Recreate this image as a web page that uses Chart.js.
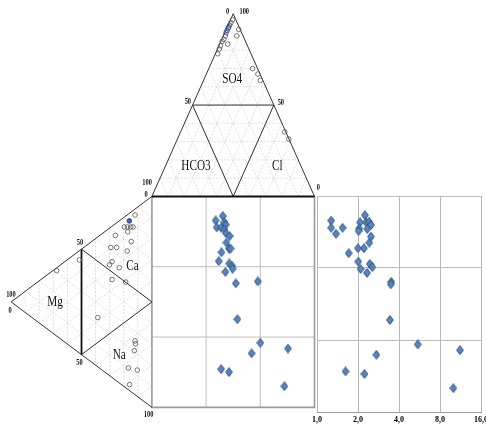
<!DOCTYPE html>
<html>
<head>
<meta charset="utf-8">
<script src="https://cdn.jsdelivr.net/npm/chart.js@4.4.0/dist/chart.umd.min.js"></script>
<style>
html, body { margin: 0; padding: 0; background: #fff; overflow: hidden; }
#wrap { position: relative; width: 486px; height: 428px; }
#main { position: absolute; left: 0; top: 0; }
#side { position: absolute; left: 304px; top: 186px; }
</style>
</head>
<body>
<div id="wrap">
  <canvas id="main" width="486" height="428"></canvas>
  <canvas id="side" width="190" height="242"></canvas>
</div>
<script>
// diagram units: square is 0..100 both ways, triangles have side 100
let anionX = [49.6, 48.6, 47.2, 45.2, 44.2, 43.2, 46.6, 42.2, 41.4, 40.5, 52.2, 53.4, 61.9, 65.2, 66.7, 81.7, 84.2]
let anionY = [183.8, 182.3, 180.2, 176.1, 174.5, 173.5, 172.2, 171.4, 169.9, 167.6, 176.1, 179.2, 160.6, 158.0, 155.0, 130.6, 127.2]
let anionBlueX = [47.8, 46.2, 45.6, 46.9]
let anionBlueY = [181.2, 178.7, 177.6, 179.8]

let cationX = [-10.4, -17.0, -15.1, -13.1, -11.6, -14.9, -22.5, -12.7, -25.3, -21.7, -15.2, -44.6, -24.5, -26.1, -20.1, -58.6, -24.5, -16.1, -33.3, -10.4, -10.1, -10.8, -14.5, -9.0, -13.7]
let cationY = [91.2, 85.5, 85.5, 85.5, 85.5, 83.2, 81.5, 78.6, 75.8, 75.8, 74.1, 69.9, 69.1, 67.6, 66.2, 64.8, 60.6, 59.4, 42.6, 31.5, 30.1, 26.9, 18.7, 17.7, 10.8]
let cationBlueX = [-13.9]
let cationBlueY = [88.4]

let sqX = [43.6, 39.2, 44.6, 45.4, 39.9, 42.6, 44.6, 45.6, 47.8, 45.8, 42.8, 47.4, 48.4, 41.1, 47.6, 49.4, 49.6, 45.2, 51.6, 65.1, 52.6, 66.7, 83.7, 61.3, 42.6, 47.4, 81.5]
let sqY = [90.7, 88.6, 87.8, 86.6, 85.3, 85.2, 84.3, 82.5, 81.2, 78.1, 73.5, 75.3, 75.3, 69.3, 68.2, 67.0, 65.7, 64.2, 58.8, 59.7, 41.8, 30.6, 27.9, 25.6, 18.1, 16.7, 10.0]

let sideVal = [2.25, 1.27, 2.07, 2.29, 2.41, 2.49, 1.27, 1.54, 2.04, 2.34, 2.02, 1.38, 2.49, 2.42, 2.0, 2.21, 1.71, 2.01, 2.44, 2.55, 2.09, 2.33, 3.51, 3.48, 3.43, 5.49, 11.22, 2.73, 1.62, 2.23, 10.02]
let sideY = [91.1, 88.6, 87.8, 87.8, 88.1, 86.6, 85.3, 85.3, 85.0, 84.7, 83.8, 82.5, 81.2, 78.4, 75.8, 75.8, 73.5, 69.6, 68.5, 67.1, 66.2, 64.4, 60.3, 59.1, 42.6, 31.3, 28.6, 26.5, 18.8, 17.6, 11.0]
let sideTicks = [1, 2, 4, 8, 16]

let areaNames = ['SO4', 'HCO3', 'Cl', 'Ca', 'Mg', 'Na']
let edgeNames = ['0', '100', '50', '50', '100', '0', '0', '50', '100', '0', '50', '100']

// where the texts sit, in diagram units
const areaPos = [[49.4, 155.6], [27.1, 114.4], [77.1, 114.4], [-12.0, 66.7], [-59.6, 50.0], [-20.1, 24.5]]
const edgePos = [[46.6, 187.6], [56.8, 187.4], [22.1, 145.0], [79.3, 144.1], [-3.0, 106.2], [-3.6, 100.9],
                 [102.4, 104.0], [-44.2, 78.1], [-86.7, 53.4], [-87.3, 45.7], [-44.6, 21.0], [-2.0, -3.7]]

const pts = (xs, ys) => xs.map((x, i) => ({x: x, y: ys[i]}))
const H = 86.6

// triangle corners
const topA = {x: 0, y: 100}, topB = {x: 100, y: 100}, topC = {x: 50, y: 100 + H}
const lefA = {x: 0, y: 100}, lefB = {x: 0, y: 0}, lefC = {x: -H, y: 50}

function triGrid(a, b, c) {
  let out = []
  let v = [a, b, c]
  for (let i = 0; i < 3; i++) {
    let v0 = v[i], v1 = v[(i + 1) % 3], v2 = v[(i + 2) % 3]
    for (let k = 1; k < 10; k++) {
      let t = k / 10
      out.push({x: v0.x + t * (v1.x - v0.x), y: v0.y + t * (v1.y - v0.y)})
      out.push({x: v0.x + t * (v2.x - v0.x), y: v0.y + t * (v2.y - v0.y)})
      out.push({x: null, y: null})
    }
  }
  return out
}
const mid = (p, q) => ({x: (p.x + q.x) / 2, y: (p.y + q.y) / 2})
const gap = {x: null, y: null}

function lineSet(data, color, width, order, dash) {
  return {data: data, showLine: true, borderColor: color, borderWidth: width, pointRadius: 0,
          order: order, borderDash: dash || [], spanGaps: false, clip: false}
}
function circles(data, color, fill) {
  return {data: data, pointStyle: 'circle', pointRadius: 2.3, borderWidth: 0.8,
          borderColor: color, backgroundColor: fill, order: 0, clip: false}
}

// slightly tall diamond marker, like the original export
const dia = document.createElement('canvas')
dia.width = 8; dia.height = 10
{
  const c = dia.getContext('2d')
  c.beginPath()
  c.moveTo(4, 0.6); c.lineTo(7.4, 5); c.lineTo(4, 9.4); c.lineTo(0.6, 5); c.closePath()
  c.fillStyle = '#5585c2'; c.fill()
  c.strokeStyle = '#2b4f7e'; c.lineWidth = 0.9; c.stroke()
}
const diamond = {pointStyle: dia, pointRadius: 4, order: 0}

const third = [100 / 3, 200 / 3]
const squareGrid = []
third.forEach(t => { squareGrid.push({x: t, y: 0}, {x: t, y: 100}, gap, {x: 0, y: t}, {x: 100, y: t}, gap) })

const topInner = [mid(topA, topC), mid(topB, topC), gap, mid(topA, topC), mid(topA, topB), mid(topB, topC)]
const lefSlant = [mid(lefA, lefC), mid(lefA, lefB), mid(lefB, lefC)]
const lefBar = [mid(lefA, lefC), mid(lefB, lefC)]

function narrowText(ctx, t, px, py) {
  ctx.save()
  ctx.translate(px, py)
  ctx.scale(0.8, 1)
  ctx.fillText(t, 0, 0)
  ctx.restore()
}

const textPlugin = {
  id: 'texts',
  afterDatasetsDraw(chart) {
    const {ctx, scales: {x, y}} = chart
    ctx.save()
    ctx.fillStyle = '#111'
    ctx.textAlign = 'center'
    ctx.textBaseline = 'middle'
    ctx.font = '14px "Liberation Serif"'
    areaNames.forEach((t, i) => narrowText(ctx, t, x.getPixelForValue(areaPos[i][0]), y.getPixelForValue(areaPos[i][1])))
    ctx.font = 'bold 8px "Liberation Serif"'
    edgeNames.forEach((t, i) => narrowText(ctx, t, x.getPixelForValue(edgePos[i][0]), y.getPixelForValue(edgePos[i][1])))
    ctx.restore()
  }
}

new Chart('main', {
  type: 'scatter',
  data: {
    datasets: [
      circles(pts(anionBlueX, anionBlueY), '#2a3fa0', 'rgba(0,0,0,0)'),
      circles(pts(cationBlueX, cationBlueY), '#1f2f8a', '#4a5fb8'),
      circles(pts(anionX, anionY), '#555', 'rgba(0,0,0,0)'),
      circles(pts(cationX, cationY), '#555', 'rgba(0,0,0,0)'),
      Object.assign({data: pts(sqX, sqY)}, diamond),
      lineSet([topA, topC, topB], '#333', 1, 1),
      lineSet([topA, topB], '#111', 2, 1),
      lineSet(topInner, '#333', 1, 1),
      lineSet([lefA, lefC, lefB], '#333', 1, 1),
      lineSet(lefSlant, '#333', 1, 1),
      lineSet(lefBar, '#111', 1.8, 1),
      lineSet([{x: 0, y: 100}, {x: 0, y: 0}, {x: 100, y: 0}, {x: 100, y: 100}], '#999', 1.6, 2),
      lineSet(squareGrid, '#bcbcbc', 1, 3),
      lineSet(triGrid(topA, topB, topC), '#d6d6d6', 0.8, 4, [2, 1.5]),
      lineSet(triGrid(lefA, lefB, lefC), '#d6d6d6', 0.8, 4, [2, 1.5])
    ]
  },
  options: {
    responsive: false,
    animation: false,
    events: [],
    layout: {padding: 0},
    plugins: {legend: {display: false}, tooltip: {enabled: false}},
    scales: {
      x: {type: 'linear', display: false, min: -90.36, max: 202.41},
      y: {type: 'linear', display: false, min: -7.41, max: 190.74}
    }
  },
  plugins: [textPlugin]
})

new Chart('side', {
  type: 'scatter',
  data: {
    datasets: [Object.assign({data: pts(sideVal, sideY)}, diamond)]
  },
  options: {
    responsive: false,
    animation: false,
    events: [],
    layout: {padding: {left: 13, right: 13, top: 10, bottom: 0}},
    plugins: {legend: {display: false}, tooltip: {enabled: false}},
    scales: {
      x: {
        type: 'logarithmic', min: 1, max: 16,
        afterBuildTicks: s => { s.ticks = sideTicks.map(v => ({value: v})) },
        afterFit: s => { s.height = 16 },
        ticks: {
          callback: v => Number(v).toFixed(1).replace('.', ','),
          font: {family: 'Liberation Serif', size: 8, weight: 'bold'},
          color: '#000', padding: 3, maxRotation: 0, autoSkip: false
        },
        grid: {color: '#b8b8b8', drawTicks: false},
        border: {color: '#999'}
      },
      y: {
        type: 'linear', min: 0, max: 100,
        afterBuildTicks: s => { s.ticks = [0, 100 / 3, 200 / 3, 100].map(v => ({value: v})) },
        afterFit: s => { s.width = 0 },
        ticks: {display: false},
        grid: {color: '#bcbcbc', drawTicks: false},
        border: {display: false}
      }
    }
  }
})
</script>
</body>
</html>
